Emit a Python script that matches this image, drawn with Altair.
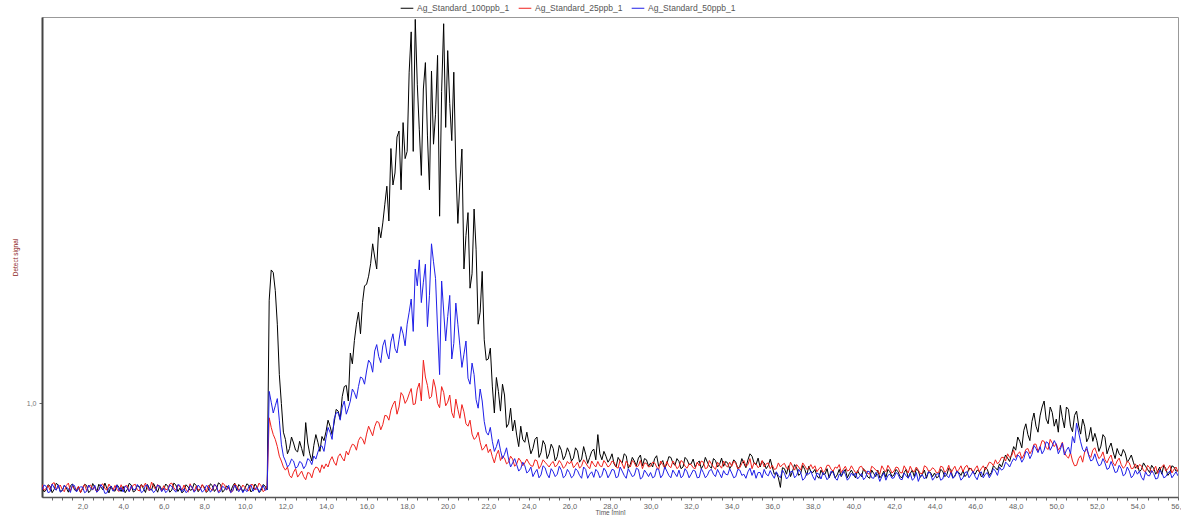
import altair as alt
import pandas as pd

# Chromatogram traces. Each sample is stored as two interleaved lists:
# readings at even steps (0.0, 0.2, ... 56.0 min) and at the odd steps
# in between (0.1, 0.3, ... 55.9 min). Signal is in milli-units (1000 = 1,0).
T_STEP = 0.2

sample_names = ["Ag_Standard_100ppb_1", "Ag_Standard_25ppb_1", "Ag_Standard_50ppb_1"]
sample_colors = ["#000000", "#f0201c", "#1f1fe8"]

std_100ppb = [
    650, 638, 655, 642, 660, 636, 648, 657, 640, 652,
    645, 658, 637, 651, 663, 640, 646, 656, 634, 649,
    654, 641, 660, 636, 650, 645, 662, 639, 648, 657,
    643, 655, 639, 660, 647, 636, 652, 641, 658, 645,
    651, 638, 657, 644, 662, 640, 649, 655, 637, 653,
    646, 658, 640, 652, 637, 655, 1430, 1545, 1330, 1000,
    850, 812, 835, 798, 812, 920, 790, 825, 838, 862,
    882, 905, 918, 968, 1028, 1075, 1210, 1262, 1380, 1420,
    1496, 1582, 1610, 1735, 1752, 1905, 2062, 1960, 2135, 2170,
    2050, 2548, 2600, 2140, 2310, 2118, 2385, 2205, 1780, 2582,
    2470, 2095, 1985, 1920, 1560, 1795, 1540, 1640, 1380, 1265,
    1185, 1072, 1108, 968, 1035, 915, 885, 868, 905, 838,
    835, 812, 860, 795, 828, 790, 812, 778, 805, 782,
    795, 772, 802, 768, 788, 775, 810, 870, 765, 780,
    768, 748, 775, 752, 782, 745, 760, 772, 740, 765,
    752, 770, 738, 762, 748, 775, 742, 758, 735, 765,
    748, 735, 760, 742, 755, 730, 762, 745, 738, 752,
    742, 755, 738, 750, 765, 780, 745, 735, 752, 740,
    735, 712, 650, 728, 740, 718, 732, 708, 725, 738,
    712, 698, 722, 705, 690, 718, 702, 695, 725, 708,
    705, 720, 695, 712, 688, 708, 722, 700, 692, 715,
    702, 715, 690, 725, 708, 695, 718, 705, 688, 712,
    710, 695, 718, 702, 725, 698, 712, 720, 705, 728,
    705, 718, 700, 725, 712, 732, 748, 760, 772, 790,
    805, 842, 888, 870, 925, 905, 948, 1010, 915, 962,
    935, 992, 898, 975, 882, 968, 872, 905, 858, 842,
    845, 822, 858, 815, 798, 812, 780, 792, 768, 755,
    742, 725, 738, 712, 730, 718, 705, 728, 712, 735,
    720,
]
std_100ppb_mid = [
    632, 661, 628, 667, 634, 659, 630, 664, 636, 629,
    663, 628, 666, 631, 652, 668, 627, 640, 661, 633,
    628, 667, 631, 658, 662, 629, 645, 666, 630, 641,
    664, 630, 668, 633, 627, 661, 638, 667, 632, 660,
    629, 665, 633, 669, 630, 656, 632, 668, 662, 631,
    665, 631, 664, 629, 662, 640, 1556, 1470, 1120, 880,
    790, 860, 805, 842, 780, 835, 760, 870, 800, 845,
    930, 870, 975, 935, 1070, 1010, 1165, 1330, 1290, 1490,
    1530, 1665, 1560, 1690, 1830, 1760, 1910, 2110, 1890, 2020,
    2380, 2050, 2330, 1950, 2420, 1890, 2080, 2450, 2300, 2150,
    2250, 2380, 1750, 2060, 1700, 1480, 1810, 1330, 1550, 1180,
    1230, 960, 1050, 1080, 900, 980, 930, 820, 850, 880,
    790, 850, 775, 845, 770, 830, 760, 825, 765, 815,
    760, 815, 755, 820, 750, 800, 765, 790, 800, 755,
    790, 735, 760, 790, 730, 775, 740, 785, 770, 738,
    735, 782, 748, 730, 778, 752, 770, 728, 775, 745,
    768, 752, 728, 775, 738, 770, 735, 772, 758, 728,
    765, 728, 770, 732, 790, 752, 772, 760, 728, 768,
    705, 690, 732, 705, 695, 745, 700, 742, 700, 715,
    725, 688, 705, 728, 710, 690, 725, 712, 690, 722,
    690, 705, 728, 694, 722, 695, 690, 718, 725, 695,
    725, 695, 712, 690, 722, 728, 692, 722, 715, 695,
    690, 725, 695, 730, 690, 718, 700, 695, 730, 712,
    722, 695, 735, 700, 740, 722, 735, 785, 758, 820,
    860, 815, 915, 845, 960, 880, 985, 935, 985, 905,
    880, 940, 985, 905, 950, 910, 935, 840, 900, 875,
    800, 870, 790, 835, 770, 790, 808, 755, 785, 730,
    715, 752, 725, 742, 705, 735, 742, 700, 740, 718,
]

std_25ppb = [
    662, 645, 638, 670, 650, 641, 658, 636, 647, 655,
    648, 637, 660, 652, 641, 665, 639, 650, 658, 633,
    640, 658, 646, 663, 635, 652, 644, 672, 641, 650,
    657, 643, 668, 638, 651, 660, 630, 647, 655, 640,
    645, 659, 637, 652, 643, 661, 648, 634, 656, 642,
    650, 636, 661, 644, 657, 640, 940, 870, 820, 760,
    722, 700, 713, 693, 718, 682, 709, 722, 731, 744,
    748, 762, 755, 778, 772, 801, 812, 826, 845, 852,
    872, 885, 903, 921, 912, 948, 972, 1010, 985, 1032,
    1015, 1062, 998, 1085, 1180, 1075, 1028, 1064, 982, 1046,
    1005, 962, 1018, 938, 965, 905, 872, 858, 838, 815,
    795, 778, 786, 762, 772, 755, 768, 748, 760, 752,
    752, 738, 761, 742, 755, 735, 758, 744, 750, 738,
    748, 732, 755, 740, 752, 728, 745, 758, 736, 750,
    742, 755, 730, 748, 760, 735, 752, 740, 728, 750,
    738, 752, 725, 745, 758, 732, 748, 736, 755, 730,
    745, 728, 740, 755, 732, 748, 725, 742, 760, 735,
    738, 750, 732, 762, 745, 728, 748, 740, 735, 752,
    742, 728, 735, 750, 725, 738, 745, 722, 740, 730,
    728, 715, 735, 720, 742, 718, 730, 712, 738, 722,
    725, 712, 738, 720, 705, 732, 718, 740, 715, 728,
    718, 732, 710, 725, 738, 715, 722, 708, 735, 720,
    725, 712, 735, 720, 708, 738, 725, 715, 742, 730,
    728, 715, 740, 738, 752, 765, 758, 775, 790, 782,
    775, 798, 785, 812, 805, 830, 818, 842, 808, 835,
    832, 818, 795, 772, 760, 742, 782, 798, 786, 805,
    792, 778, 765, 772, 752, 760, 745, 738, 752, 730,
    728, 740, 715, 732, 722, 708, 735, 718, 742, 725,
    715,
]
std_25ppb_mid = [
    638, 658, 665, 642, 660, 632, 668, 655, 640, 628,
    662, 655, 640, 630, 658, 645, 664, 638, 640, 661,
    655, 633, 660, 640, 661, 668, 635, 655, 662, 635,
    640, 664, 648, 660, 638, 642, 665, 632, 640, 662,
    632, 646, 664, 630, 668, 640, 630, 665, 638, 660,
    640, 662, 640, 668, 632, 658, 900, 850, 780, 735,
    735, 690, 728, 705, 695, 712, 690, 735, 712, 728,
    735, 778, 742, 790, 760, 785, 830, 805, 860, 830,
    905, 865, 925, 890, 950, 930, 995, 955, 1045, 1000,
    1040, 995, 1060, 1010, 1110, 1020, 1100, 1000, 1070, 990,
    1035, 940, 975, 995, 915, 930, 850, 880, 805, 830,
    810, 752, 805, 780, 748, 780, 738, 772, 740, 768,
    740, 765, 728, 765, 745, 750, 735, 762, 730, 758,
    760, 742, 730, 765, 738, 760, 735, 740, 762, 735,
    760, 735, 765, 728, 745, 762, 735, 762, 752, 735,
    755, 735, 760, 730, 740, 760, 728, 762, 738, 748,
    732, 755, 760, 728, 762, 735, 755, 730, 742, 755,
    760, 728, 750, 738, 770, 752, 732, 762, 748, 728,
    725, 752, 745, 730, 755, 722, 735, 752, 725, 745,
    740, 728, 712, 742, 725, 735, 745, 725, 718, 740,
    712, 735, 722, 708, 738, 722, 705, 725, 742, 710,
    735, 712, 740, 710, 720, 735, 708, 740, 718, 732,
    710, 738, 712, 742, 725, 715, 740, 735, 722, 712,
    740, 728, 722, 755, 740, 748, 775, 760, 775, 805,
    790, 770, 808, 790, 830, 800, 845, 815, 850, 820,
    805, 838, 780, 795, 740, 770, 755, 810, 775, 815,
    770, 798, 752, 785, 740, 772, 730, 760, 728, 748,
    745, 720, 742, 712, 738, 725, 745, 728, 710, 735,
]

std_50ppb = [
    640, 655, 632, 648, 661, 637, 650, 629, 658, 644,
    652, 633, 646, 659, 638, 650, 627, 655, 642, 636,
    631, 649, 657, 640, 652, 635, 660, 643, 638, 654,
    646, 637, 653, 630, 658, 644, 636, 651, 641, 648,
    639, 652, 641, 656, 633, 648, 659, 636, 645, 650,
    642, 655, 634, 650, 646, 638, 1050, 960, 1020, 830,
    760, 745, 760, 736, 752, 741, 763, 781, 797, 823,
    855, 880, 935, 962, 985, 955, 1010, 1045, 1070, 1105,
    1135, 1168, 1218, 1195, 1240, 1210, 1256, 1228, 1265, 1290,
    1330, 1435, 1560, 1598, 1505, 1320, 1665, 1520, 1120, 1385,
    1362, 1185, 1418, 1240, 1205, 1105, 1168, 1015, 1060, 925,
    868, 842, 820, 805, 788, 768, 752, 745, 728, 740,
    718, 695, 725, 702, 732, 690, 715, 705, 722, 698,
    712, 698, 720, 688, 725, 705, 692, 715, 700, 718,
    705, 722, 695, 718, 688, 712, 700, 725, 692, 710,
    712, 695, 725, 702, 718, 690, 708, 722, 698, 715,
    705, 718, 692, 712, 700, 725, 695, 708, 720, 702,
    710, 695, 722, 705, 715, 700, 688, 712, 725, 698,
    702, 715, 690, 708, 695, 718, 700, 712, 688, 705,
    695, 710, 685, 702, 692, 712, 680, 698, 705, 690,
    698, 685, 708, 692, 715, 688, 702, 695, 680, 705,
    690, 705, 682, 698, 710, 688, 675, 702, 695, 708,
    692, 708, 685, 700, 712, 695, 705, 690, 715, 702,
    695, 708, 690, 712, 705, 718, 735, 728, 748, 755,
    762, 778, 770, 795, 788, 812, 820, 805, 835, 822,
    828, 808, 785, 818, 862, 918, 840, 798, 782, 765,
    760, 745, 752, 730, 738, 715, 728, 705, 718, 700,
    705, 692, 715, 698, 708, 688, 712, 695, 718, 702,
    698,
]
std_50ppb_mid = [
    660, 628, 664, 638, 630, 659, 645, 662, 631, 652,
    628, 660, 640, 630, 662, 625, 648, 634, 660, 650,
    656, 632, 642, 662, 628, 658, 638, 628, 660, 632,
    628, 660, 640, 662, 632, 628, 658, 630, 660, 630,
    658, 630, 662, 628, 655, 640, 628, 660, 632, 628,
    632, 660, 645, 630, 658, 642, 1005, 990, 930, 780,
    735, 768, 730, 758, 728, 770, 745, 768, 820, 800,
    900, 850, 960, 930, 1010, 980, 1060, 1020, 1110, 1080,
    1180, 1130, 1245, 1170, 1265, 1185, 1290, 1210, 1320, 1240,
    1380, 1300, 1490, 1420, 1580, 1450, 1590, 1310, 1510, 1260,
    1450, 1250, 1330, 1150, 1260, 1080, 1120, 980, 1010, 880,
    900, 800, 850, 770, 815, 735, 770, 718, 755, 710,
    735, 712, 690, 740, 705, 728, 695, 738, 690, 725,
    690, 728, 700, 735, 688, 715, 725, 690, 730, 690,
    725, 690, 735, 700, 728, 695, 730, 685, 722, 695,
    690, 728, 690, 735, 700, 722, 695, 690, 728, 690,
    722, 690, 728, 690, 720, 705, 725, 690, 705, 728,
    690, 725, 700, 688, 730, 722, 712, 690, 705, 720,
    688, 700, 722, 685, 715, 690, 725, 680, 710, 718,
    680, 705, 712, 682, 718, 688, 705, 720, 680, 710,
    710, 695, 682, 718, 690, 712, 675, 710, 700, 688,
    712, 685, 710, 688, 680, 712, 698, 685, 715, 680,
    705, 680, 712, 690, 688, 718, 680, 712, 690, 718,
    682, 715, 705, 690, 728, 700, 722, 755, 735, 770,
    785, 755, 800, 770, 825, 795, 790, 840, 805, 845,
    790, 835, 805, 790, 835, 880, 808, 820, 760, 790,
    740, 770, 725, 758, 712, 742, 698, 735, 690, 722,
    718, 680, 700, 720, 685, 722, 690, 710, 690, 715,
]

readings = {
    "Ag_Standard_100ppb_1": (std_100ppb, std_100ppb_mid),
    "Ag_Standard_25ppb_1": (std_25ppb, std_25ppb_mid),
    "Ag_Standard_50ppb_1": (std_50ppb, std_50ppb_mid),
}

rows = []
for name in sample_names:
    even, odd = readings[name]
    assert len(even) == 281 and len(odd) == 280
    points = [(i * T_STEP, v) for i, v in enumerate(even)]
    points += [(i * T_STEP + T_STEP / 2, v) for i, v in enumerate(odd)]
    points.sort()
    for t, v in points:
        rows.append({"time": round(t, 2), "signal": v / 1000.0, "sample": name})
df = pd.DataFrame(rows)

x_ticks = [round(0.5 * k, 1) for k in range(1, 113)]
FONT = "Liberation Sans"

chart = alt.Chart(df).mark_line(strokeWidth=1, clip=True).encode(
    x=alt.X(
        "time:Q",
        scale=alt.Scale(domain=[0, 56], nice=False, zero=False),
        axis=alt.Axis(
            values=x_ticks,
            labelExpr="datum.value % 2 == 0 ? replace(format(datum.value, '.1f'), '.', ',') : ''",
            tickSize=3,
            tickColor="#666",
            domainColor="#555",
            domainWidth=1.5,
            labelFontSize=7.5,
            labelColor="#666",
            labelPadding=2,
            labelOverlap=False,
            labelFlush=False,
            grid=False,
            title="Time [min]",
            titleFontSize=6.5,
            titleFontWeight="normal",
            titleColor="#555",
            titlePadding=0,
        ),
    ),
    y=alt.Y(
        "signal:Q",
        scale=alt.Scale(domain=[0.61, 2.61], nice=False, zero=False),
        axis=alt.Axis(
            values=[1.0],
            labelExpr="'1,0'",
            tickSize=3,
            tickColor="#666",
            domainColor="#444",
            domainWidth=2,
            labelFontSize=7,
            labelColor="#777",
            labelPadding=3,
            grid=False,
            title="Detect signal",
            titleColor="#8b1a1a",
            titleFontSize=6.5,
            titleFontWeight="normal",
            titleX=-24,
            titleY=240,
        ),
    ),
    color=alt.Color(
        "sample:N",
        scale=alt.Scale(domain=sample_names, range=sample_colors),
        sort=sample_names,
        legend=alt.Legend(
            title=None,
            orient="none",
            direction="horizontal",
            legendX=358,
            legendY=-16,
            symbolType="stroke",
            symbolStrokeWidth=1,
            symbolSize=160,
            labelFontSize=8.5,
            labelColor="#555",
            columnPadding=6,
            labelOffset=3,
        ),
    ),
    order="time:Q",
).properties(
    width=1136,
    height=480,
    autosize=alt.AutoSizeParams(type="none"),
    padding={"left": 42, "top": 17, "right": 3, "bottom": 18},
).configure(
    font=FONT,
).configure_view(
    stroke="#999",
    strokeWidth=1,
)

chart.save("out.html", embed_options={"renderer": "svg", "actions": False})
